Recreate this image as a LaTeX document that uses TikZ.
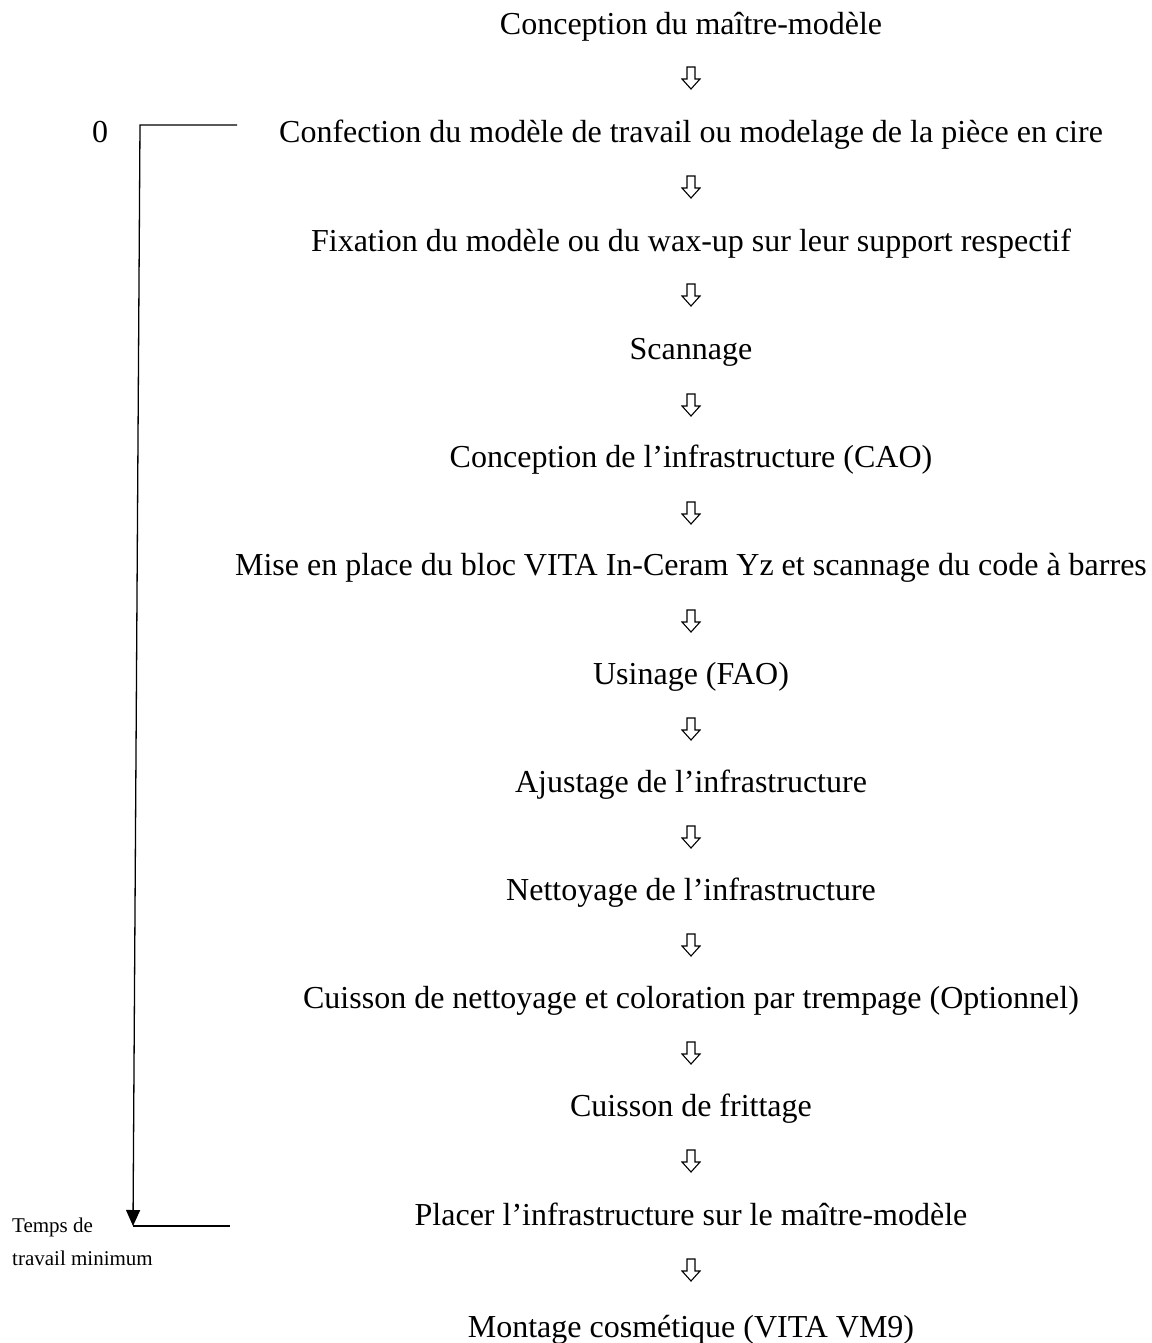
\documentclass[tikz,border=0pt]{standalone}
\usepackage{fontspec}
\setmainfont{Liberation Serif}
\usetikzlibrary{arrows.meta}
\begin{document}
\begin{tikzpicture}[x=1pt,y=-1pt,
  stepbox/.style={anchor=base,inner sep=0pt,font=\fontsize{32}{38}\selectfont},
  smalltxt/.style={anchor=base west,inner sep=0pt,font=\fontsize{21}{25}\selectfont},
  hollowarr/.pic={\draw[line width=1.1pt,line join=miter]
    (-4,-11) -- (4,-11) -- (4,1) -- (9,1) -- (0,11) -- (-9,1) -- (-4,1) -- cycle;}]
\useasboundingbox (0,0) rectangle (1151,1343);
\node[stepbox] (s1) at (691,35) {Conception du maître-modèle};
\node[stepbox] (s2) at (691,143) {Confection du modèle de travail ou modelage de la pièce en cire};
\node[stepbox] (s3) at (691,251) {Fixation du modèle ou du wax-up sur leur support respectif};
\node[stepbox] (s4) at (691,359) {Scannage};
\node[stepbox] (s5) at (691,467) {Conception de l’infrastructure (CAO)};
\node[stepbox] (s6) at (691,575) {Mise en place du bloc VITA In-Ceram Yz et scannage du code à barres};
\node[stepbox] (s7) at (691,684) {Usinage (FAO)};
\node[stepbox] (s8) at (691,792) {Ajustage de l’infrastructure};
\node[stepbox] (s9) at (691,900) {Nettoyage de l’infrastructure};
\node[stepbox] (s10) at (691,1008) {Cuisson de nettoyage et coloration par trempage (Optionnel)};
\node[stepbox] (s11) at (691,1116) {Cuisson de frittage};
\node[stepbox] (s12) at (691,1225) {Placer l’infrastructure sur le maître-modèle};
\node[stepbox] (s13) at (691,1337) {Montage cosmétique (VITA VM9)};
\foreach \y in {78,187,295,405,513,621,729,837,945,1053,1161,1270}
  \pic at (691,\y) {hollowarr};
\node[stepbox] (zero) at (100,143) {0};
\node[smalltxt] (t1) at (12,1232) {Temps de};
\node[smalltxt] (t2) at (12,1265) {travail minimum};
\coordinate (tl) at (237,125);
\coordinate (tc) at (140,125);
\coordinate (bc) at (133,1226);
\coordinate (br) at (230,1226);
\draw[line width=1.3pt,-{Triangle[length=16pt,width=14pt]}] (tl) -- (tc) -- (bc);
\draw[line width=1.3pt] (bc) -- (br);
\end{tikzpicture}
\end{document}
